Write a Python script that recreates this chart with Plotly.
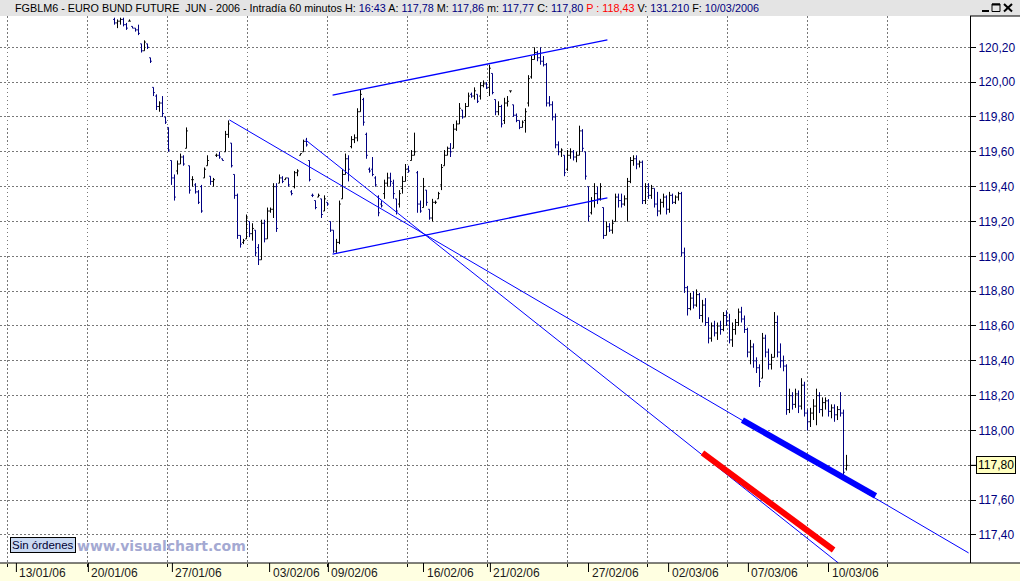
import plotly.graph_objects as go

# ---------------- data (hourly bars) ----------------
bar_open = [
    120.36,120.34,120.35,120.36,120.33,120.35,120.32,120.31,120.30,120.22,
    120.18,120.22,120.14,119.97,119.92,119.86,119.88,119.80,119.74,119.55,
    119.45,119.49,119.53,119.57,119.62,119.52,119.44,119.41,119.37,119.40,
    119.45,119.52,119.46,119.43,119.58,119.58,119.56,119.60,119.70,119.65,
    119.47,119.35,119.12,119.08,119.10,119.20,119.13,119.15,119.05,118.98,
    119.19,119.10,119.26,119.27,119.40,119.42,119.45,119.44,119.45,119.37,
    119.40,119.48,119.58,119.60,119.66,119.55,119.35,119.32,119.34,119.33,
    119.26,119.31,119.20,119.15,119.03,119.08,119.33,119.47,119.56,119.63,
    119.67,119.68,119.83,119.90,119.70,119.50,119.50,119.45,119.34,119.30,
    119.36,119.42,119.45,119.42,119.33,119.30,119.39,119.43,119.50,119.55,
    119.58,119.48,119.30,119.28,119.38,119.27,119.22,119.31,119.33,119.41,
    119.52,119.58,119.62,119.62,119.73,119.76,119.84,119.80,119.86,119.93,
    119.92,119.93,119.92,119.98,119.99,119.97,120.05,119.90,119.83,119.86,
    119.78,119.88,119.95,119.87,119.81,119.78,119.74,119.78,119.88,120.03,
    120.13,120.17,120.14,120.12,120.10,119.88,119.87,119.80,119.64,119.60,
    119.58,119.50,119.58,119.60,119.57,119.58,119.72,119.60,119.40,119.25,
    119.32,119.36,119.33,119.28,119.12,119.17,119.15,119.20,119.34,119.32,
    119.30,119.33,119.43,119.55,119.56,119.53,119.54,119.32,119.40,119.35,
    119.39,119.30,119.26,119.31,119.34,119.27,119.35,119.31,119.34,119.36,
    119.02,118.82,118.70,118.76,118.72,118.78,118.66,118.72,118.62,118.53,
    118.60,118.56,118.60,118.58,118.66,118.63,118.52,118.58,118.62,118.68,
    118.64,118.58,118.45,118.48,118.40,118.36,118.30,118.53,118.45,118.38,
    118.42,118.62,118.45,118.40,118.37,118.12,118.20,118.15,118.21,118.14,
    118.26,118.10,118.05,118.10,118.14,118.20,118.12,118.16,118.17,118.11,
    118.13,118.09,118.12,118.10,117.78,
]
bar_high = [
    120.37,120.36,120.37,120.37,120.34,120.36,120.32,120.31,120.33,120.22,
    120.24,120.22,120.14,119.97,119.93,119.89,119.92,119.80,119.74,119.55,
    119.47,119.55,119.59,119.58,119.74,119.52,119.46,119.42,119.38,119.41,
    119.51,119.58,119.46,119.45,119.59,119.60,119.56,119.72,119.78,119.65,
    119.47,119.36,119.12,119.10,119.24,119.20,119.19,119.15,119.07,119.21,
    119.21,119.28,119.28,119.42,119.42,119.47,119.46,119.45,119.45,119.38,
    119.49,119.50,119.59,119.67,119.68,119.55,119.36,119.32,119.36,119.33,
    119.35,119.31,119.20,119.15,119.10,119.32,119.50,119.59,119.58,119.69,
    119.70,119.85,119.96,119.91,119.71,119.51,119.57,119.46,119.35,119.32,
    119.44,119.48,119.48,119.44,119.33,119.38,119.46,119.53,119.52,119.61,
    119.71,119.49,119.32,119.45,119.38,119.27,119.33,119.32,119.37,119.53,
    119.61,119.63,119.65,119.76,119.78,119.88,119.84,119.88,119.94,119.94,
    119.97,119.93,120.00,120.01,120.00,120.10,120.05,119.90,119.89,119.87,
    119.91,119.92,119.95,119.87,119.82,119.78,119.78,119.85,120.04,120.15,
    120.20,120.18,120.20,120.15,120.11,119.92,119.89,119.82,119.66,119.62,
    119.58,119.61,119.62,119.61,119.60,119.75,119.73,119.60,119.40,119.34,
    119.42,119.40,119.42,119.28,119.20,119.19,119.21,119.36,119.36,119.36,
    119.35,119.45,119.57,119.58,119.58,119.55,119.55,119.42,119.42,119.41,
    119.39,119.37,119.33,119.36,119.35,119.37,119.36,119.35,119.37,119.37,
    119.05,118.83,118.79,118.80,118.81,118.79,118.75,118.76,118.65,118.62,
    118.63,118.62,118.63,118.68,118.69,118.67,118.62,118.64,118.70,118.71,
    118.66,118.59,118.52,118.50,118.42,118.38,118.56,118.55,118.47,118.44,
    118.68,118.66,118.50,118.43,118.38,118.24,118.22,118.24,118.23,118.30,
    118.28,118.12,118.13,118.18,118.24,118.22,118.19,118.19,118.18,118.15,
    118.15,118.14,118.22,118.12,117.86,
]
bar_low = [
    120.33,120.31,120.33,120.32,120.30,120.35,120.31,120.29,120.27,120.17,
    120.18,120.19,120.11,119.92,119.84,119.83,119.80,119.76,119.60,119.41,
    119.32,119.47,119.53,119.52,119.62,119.36,119.40,119.36,119.30,119.25,
    119.45,119.52,119.41,119.40,119.57,119.56,119.55,119.60,119.68,119.51,
    119.33,119.10,119.05,119.07,119.10,119.11,119.09,119.00,118.95,118.98,
    119.08,119.10,119.25,119.22,119.14,119.42,119.42,119.44,119.40,119.35,
    119.39,119.46,119.58,119.60,119.63,119.43,119.34,119.27,119.34,119.22,
    119.26,119.29,119.14,119.02,119.02,119.07,119.33,119.47,119.43,119.62,
    119.65,119.66,119.83,119.75,119.56,119.48,119.46,119.40,119.23,119.28,
    119.33,119.40,119.40,119.33,119.24,119.28,119.36,119.43,119.48,119.55,
    119.58,119.25,119.25,119.28,119.29,119.21,119.20,119.30,119.33,119.38,
    119.52,119.58,119.57,119.62,119.72,119.76,119.79,119.80,119.86,119.91,
    119.90,119.88,119.90,119.97,119.96,119.92,119.93,119.81,119.81,119.74,
    119.76,119.86,119.94,119.80,119.77,119.73,119.74,119.71,119.86,120.02,
    120.13,120.12,120.10,120.09,119.86,119.86,119.78,119.62,119.58,119.57,
    119.46,119.49,119.56,119.55,119.54,119.58,119.60,119.44,119.20,119.24,
    119.28,119.30,119.32,119.10,119.12,119.14,119.13,119.20,119.28,119.28,
    119.29,119.20,119.42,119.52,119.50,119.51,119.30,119.30,119.33,119.33,
    119.28,119.23,119.24,119.28,119.24,119.25,119.30,119.30,119.32,119.00,
    118.79,118.66,118.69,118.70,118.71,118.64,118.62,118.60,118.50,118.51,
    118.54,118.52,118.55,118.57,118.60,118.50,118.48,118.55,118.60,118.62,
    118.56,118.42,118.38,118.36,118.33,118.25,118.30,118.42,118.35,118.35,
    118.42,118.42,118.36,118.34,118.09,118.10,118.12,118.13,118.10,118.12,
    118.08,118.00,118.02,118.06,118.03,118.10,118.08,118.12,118.08,118.07,
    118.05,118.06,118.08,117.73,117.77,
]
bar_close = [
    120.34,120.35,120.36,120.33,120.31,120.35,120.31,120.30,120.28,120.18,
    120.23,120.20,120.12,119.94,119.86,119.88,119.82,119.77,119.61,119.45,
    119.34,119.53,119.57,119.53,119.72,119.38,119.44,119.37,119.31,119.26,
    119.50,119.55,119.43,119.44,119.58,119.57,119.55,119.70,119.76,119.52,
    119.35,119.12,119.07,119.09,119.22,119.13,119.16,119.02,118.98,119.19,
    119.10,119.26,119.27,119.40,119.16,119.45,119.43,119.45,119.41,119.36,
    119.48,119.49,119.59,119.66,119.64,119.44,119.35,119.28,119.35,119.24,
    119.33,119.30,119.15,119.03,119.08,119.30,119.47,119.56,119.50,119.67,
    119.68,119.83,119.93,119.77,119.58,119.49,119.47,119.41,119.25,119.29,
    119.42,119.45,119.43,119.36,119.26,119.36,119.43,119.50,119.49,119.58,
    119.60,119.30,119.26,119.40,119.31,119.22,119.31,119.31,119.36,119.51,
    119.58,119.62,119.60,119.73,119.76,119.85,119.80,119.86,119.92,119.92,
    119.95,119.89,119.98,119.99,119.97,120.08,119.94,119.83,119.86,119.76,
    119.88,119.89,119.95,119.81,119.78,119.74,119.77,119.83,120.02,120.13,
    120.17,120.14,120.12,120.10,119.88,119.87,119.80,119.64,119.60,119.61,
    119.48,119.58,119.60,119.57,119.58,119.72,119.62,119.46,119.23,119.32,
    119.36,119.33,119.40,119.12,119.17,119.15,119.19,119.34,119.32,119.30,
    119.33,119.43,119.55,119.56,119.53,119.54,119.32,119.40,119.35,119.39,
    119.30,119.26,119.31,119.34,119.27,119.35,119.31,119.34,119.36,119.02,
    118.82,118.70,118.76,118.72,118.78,118.66,118.72,118.62,118.53,118.60,
    118.56,118.60,118.58,118.66,118.63,118.52,118.58,118.62,118.68,118.64,
    118.58,118.45,118.48,118.40,118.36,118.28,118.53,118.45,118.38,118.42,
    118.62,118.45,118.40,118.37,118.12,118.20,118.15,118.21,118.14,118.26,
    118.10,118.05,118.10,118.14,118.20,118.12,118.16,118.17,118.11,118.13,
    118.09,118.12,118.10,117.76,117.80,
]
bar_index = list(range(len(bar_close)))

# day labels on the time axis and the bar where each starts
date_labels = ["13/01/06", "20/01/06", "27/01/06", "03/02/06", "09/02/06", "16/02/06",
               "21/02/06", "27/02/06", "02/03/06", "07/03/06", "10/03/06"]
date_label_bar = [-32.7, -8.7, 19.3, 51.7, 71.3, 103.0, 125.3, 158.0, 184.7, 211.3, 238.0]

# price axis ticks
price_ticks = [117.40, 117.60, 117.80, 118.00, 118.20, 118.40, 118.60, 118.80,
               119.00, 119.20, 119.40, 119.60, 119.80, 120.00, 120.20]
last_price = 117.80

# drawn trend lines: [bar start, bar end], [price start, price end]
channel_top_x, channel_top_y = [72.7, 164.3], [119.926, 120.242]
channel_bot_x, channel_bot_y = [72.7, 164.3], [119.013, 119.335]
trend_a_x, trend_a_y = [38.3, 284.7], [119.783, 117.297]
trend_b_x, trend_b_y = [63.7, 241.3], [119.668, 117.239]
thick_blue_x, thick_blue_y = [209.3, 253.7], [118.060, 117.624]
thick_red_x, thick_red_y = [196.0, 239.7], [117.871, 117.314]

header_fields = [("H:", "16:43"), ("A:", "117,78"), ("M:", "117,86"), ("m:", "117,77"),
                 ("C:", "117,80")]
header_tail = [("V:", "131.210"), ("F:", "10/03/2006")]
header_prev = "P : 118,43"

# ---------------- layout geometry ----------------
W, H = 1020, 581
ML, MR, MT, MB = 0, 50, 16, 18
PW, PH = W - ML - MR, H - MT - MB        # 970 x 547
XMIN = -38.1667
XMAX = XMIN + PW / 3.0
YMIN, YMAX = 117.2392, 120.3797

def pxx(p):   # pixel x -> paper
    return p / PW

def pxy(p):   # pixel y -> paper
    return (H - MB - p) / PH

def bar_to_paper(b):
    return (b - XMIN) / (XMAX - XMIN)

grid_bars = [XMIN + (7.5 + 80 * k) / 3.0 for k in range(12)]

NAVY = "#000080"
FONT = "Liberation Sans, Arial, sans-serif"
GRID = "#787878"
GRID_DASH = "1.5px,2.5px"

fig = go.Figure()

fig.add_trace(go.Ohlc(
    x=bar_index, open=bar_open, high=bar_high, low=bar_low, close=bar_close,
    increasing=dict(line=dict(color="#000000", width=1)),
    decreasing=dict(line=dict(color=NAVY, width=1)),
    tickwidth=0.45, hoverinfo="skip", showlegend=False,
))

for xs, ys, w in [(channel_top_x, channel_top_y, 1.3), (channel_bot_x, channel_bot_y, 1.3),
                  (trend_a_x, trend_a_y, 1), (trend_b_x, trend_b_y, 1)]:
    fig.add_trace(go.Scatter(x=xs, y=ys, mode="lines", line=dict(color="#0000FF", width=w),
                             hoverinfo="skip", showlegend=False))
fig.add_trace(go.Scatter(x=thick_blue_x, y=thick_blue_y, mode="lines",
                         line=dict(color="#0000FF", width=6), hoverinfo="skip", showlegend=False))
fig.add_trace(go.Scatter(x=thick_red_x, y=thick_red_y, mode="lines",
                         line=dict(color="#FF0000", width=6), hoverinfo="skip", showlegend=False))

shapes = []
shapes.append(dict(type="rect", xref="paper", yref="paper", x0=0, x1=pxx(W), y0=pxy(MT), y1=pxy(0),
                   fillcolor="#E4E4E4", line=dict(width=0), layer="below"))
shapes.append(dict(type="rect", xref="paper", yref="paper", x0=0, x1=pxx(W), y0=pxy(H), y1=pxy(H - MB),
                   fillcolor="#FFFFE1", line=dict(width=0), layer="below"))
shapes.append(dict(type="line", xref="paper", yref="paper", x0=0, x1=pxx(W), y0=0, y1=0,
                   line=dict(color="black", width=1)))
shapes.append(dict(type="line", xref="paper", yref="paper", x0=1, x1=pxx(W), y0=1, y1=1,
                   line=dict(color="black", width=1)))
for b in date_label_bar:
    xp = bar_to_paper(b)
    shapes.append(dict(type="line", xref="paper", yref="paper", x0=xp, x1=xp, y0=0, y1=pxy(572),
                       line=dict(color="black", width=1)))
shapes.append(dict(type="line", xref="paper", yref="y", x0=pxx(971), x1=pxx(977),
                   y0=last_price, y1=last_price, line=dict(color="black", width=1)))
shapes.append(dict(type="line", xref="paper", yref="paper", x0=pxx(982), x1=pxx(989),
                   y0=pxy(11), y1=pxy(11), line=dict(color="black", width=2)))
shapes.append(dict(type="rect", xref="paper", yref="paper", x0=pxx(992), x1=pxx(1000),
                   y0=pxy(11.5), y1=pxy(4), line=dict(color="black", width=1)))
shapes.append(dict(type="line", xref="paper", yref="paper", x0=pxx(992), x1=pxx(1000),
                   y0=pxy(4.5), y1=pxy(4.5), line=dict(color="black", width=2)))
shapes.append(dict(type="line", xref="paper", yref="paper", x0=pxx(1004), x1=pxx(1012),
                   y0=pxy(4), y1=pxy(11.5), line=dict(color="black", width=2)))
shapes.append(dict(type="line", xref="paper", yref="paper", x0=pxx(1004), x1=pxx(1012),
                   y0=pxy(11.5), y1=pxy(4), line=dict(color="black", width=2)))

annotations = []
def nv(s):
    return "<span style='color:%s'>%s</span>" % (NAVY, s)
head = "FGBLM6 - EURO BUND FUTURE\u00a0\u00a0JUN - 2006 - Intradía 60 minutos"
for k, v in header_fields:
    head += " " + k + " " + nv(v)
head += " <span style='color:#FF0000'>" + header_prev + "</span>"
for k, v in header_tail:
    head += " " + k + " " + nv(v)
annotations.append(dict(xref="paper", yref="paper", x=pxx(13), y=pxy(8), text=head,
                        showarrow=False, xanchor="left", yanchor="middle",
                        font=dict(family=FONT, size=10.8, color="black")))
for lab, b in zip(date_labels, date_label_bar):
    annotations.append(dict(xref="x", yref="paper", x=b, y=pxy(573), text=lab, showarrow=False,
                            xanchor="left", yanchor="middle", xshift=1,
                            font=dict(family=FONT, size=12, color="#1A1A1A")))
annotations.append(dict(xref="paper", yref="y", x=pxx(976), y=last_price,
                        text=("%.2f" % last_price).replace(".", ","), showarrow=False, xanchor="left",
                        yanchor="middle", bgcolor="#FFFFC0", bordercolor="black", borderwidth=1,
                        borderpad=1, font=dict(family=FONT, size=12, color="black")))
annotations.append(dict(xref="paper", yref="paper", x=pxx(10), y=pxy(545), text="Sin órdenes",
                        showarrow=False, xanchor="left", yanchor="middle", bgcolor="#CAD9F2",
                        bordercolor="black", borderwidth=1, borderpad=1,
                        font=dict(family=FONT, size=11.5, color="#000033")))
annotations.append(dict(xref="paper", yref="paper", x=pxx(75), y=pxy(546),
                        text="<b>www.visualchart.com</b>", showarrow=False, xanchor="left",
                        yanchor="middle", font=dict(family="DejaVu Sans", size=14, color="#A4A9D2")))

fig.update_layout(
    width=W, height=H, autosize=False,
    margin=dict(l=ML, r=MR, t=MT, b=MB, pad=0),
    paper_bgcolor="white", plot_bgcolor="white",
    showlegend=False, shapes=shapes, annotations=annotations,
    xaxis=dict(range=[XMIN, XMAX], tickvals=grid_bars, showticklabels=False,
               ticks="outside", ticklen=3, tickcolor="black",
               showgrid=True, gridcolor=GRID, griddash=GRID_DASH, gridwidth=1,
               zeroline=False, showline=False, rangeslider=dict(visible=False), fixedrange=True),
    yaxis=dict(range=[YMIN, YMAX], side="right", tickvals=price_ticks,
               ticktext=[("%.2f" % v).replace(".", ",") for v in price_ticks],
               ticks="outside", ticklen=5, tickcolor="black",
               tickfont=dict(family=FONT, size=12, color=NAVY),
               showgrid=True, gridcolor=GRID, griddash=GRID_DASH, gridwidth=1,
               zeroline=False, showline=True, linecolor="black", linewidth=1, fixedrange=True),
)

fig.write_html(
    "out.html",
    config={"displayModeBar": False},
    post_script="document.body.style.margin='0px';document.body.style.overflow='hidden';",
)
